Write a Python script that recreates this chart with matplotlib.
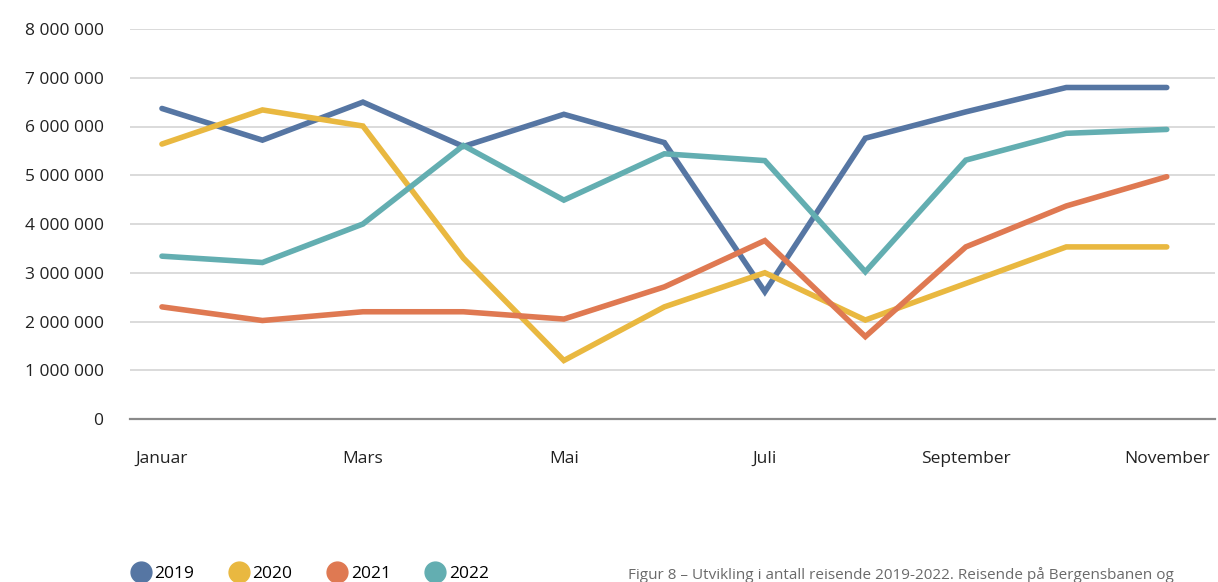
import matplotlib
matplotlib.use("Agg")
import matplotlib.pyplot as plt
from matplotlib.lines import Line2D
from matplotlib.ticker import FuncFormatter

months = ["Januar", "Februar", "Mars", "April", "Mai", "Juni", "Juli",
          "August", "September", "Oktober", "November"]
tick_months = ["Januar", "Mars", "Mai", "Juli", "September", "November"]
years = ["2019", "2020", "2021", "2022"]

s2019 = [6.37e6, 5.72e6, 6.50e6, 5.59e6, 6.25e6, 5.67e6, 2.61e6, 5.76e6, 6.30e6, 6.80e6, 6.80e6]
s2020 = [5.64e6, 6.34e6, 6.01e6, 3.30e6, 1.20e6, 2.30e6, 3.00e6, 2.03e6, 2.78e6, 3.53e6, 3.53e6]
s2021 = [2.30e6, 2.02e6, 2.20e6, 2.20e6, 2.05e6, 2.71e6, 3.66e6, 1.69e6, 3.53e6, 4.37e6, 4.97e6]
s2022 = [3.34e6, 3.21e6, 4.00e6, 5.61e6, 4.49e6, 5.44e6, 5.30e6, 3.02e6, 5.31e6, 5.86e6, 5.94e6]
series = [s2019, s2020, s2021, s2022]
colors = ["#5676A3", "#E9B840", "#DF7952", "#63AEB1"]

caption = "Figur 8 – Utvikling i antall reisende 2019-2022. Reisende på Bergensbanen og"

plt.rcParams['font.family'] = ['Open Sans', 'DejaVu Sans']

fig = plt.figure(figsize=(12.18, 5.82), dpi=100)
W, H = 1218, 582
ax = fig.add_axes([130 / W, (H - 419) / H, (1215 - 130) / W, (419 - 29) / H])

x = list(range(len(months)))
for vals, c, yr in zip(series, colors, years):
    ax.plot(x, vals, color=c, lw=4.0, solid_capstyle='round', solid_joinstyle='miter', label=yr, zorder=3)

ax.set_ylim(0, 8e6)
ax.set_xlim(-0.318, 10.48)
ax.set_yticks([i * 1e6 for i in range(9)])
ax.yaxis.set_major_formatter(FuncFormatter(lambda v, p: "0" if v == 0 else f"{int(v):,}".replace(",", " ")))
ax.set_xticks([months.index(m) for m in tick_months])
ax.set_xticklabels(tick_months)
ax.grid(axis='y', color='#D4D4D4', lw=1.2, zorder=0)
for s in ['top', 'right', 'left']:
    ax.spines[s].set_visible(False)
ax.spines['bottom'].set_color('#8A8A8A')
ax.spines['bottom'].set_linewidth(1.6)
ax.tick_params(axis='both', length=0, labelsize=12.5, colors='#222222')
ax.tick_params(axis='y', pad=19)
ax.tick_params(axis='x', pad=23)

handles = [Line2D([], [], marker='o', ls='none', markersize=15, markerfacecolor=c,
                  markeredgecolor=c) for c in colors]
fig.legend(handles, years, loc='center left', bbox_to_anchor=(125 / W, 1 - 574 / H),
           ncol=4, frameon=False, fontsize=12.5, handletextpad=0.3, columnspacing=2.05,
           borderaxespad=0, handlelength=1.0)
fig.text(628 / W, 1 - 575 / H, caption, fontsize=11, color='#6A6A6A', va='center', ha='left')

fig.savefig("out.png", dpi=100)
